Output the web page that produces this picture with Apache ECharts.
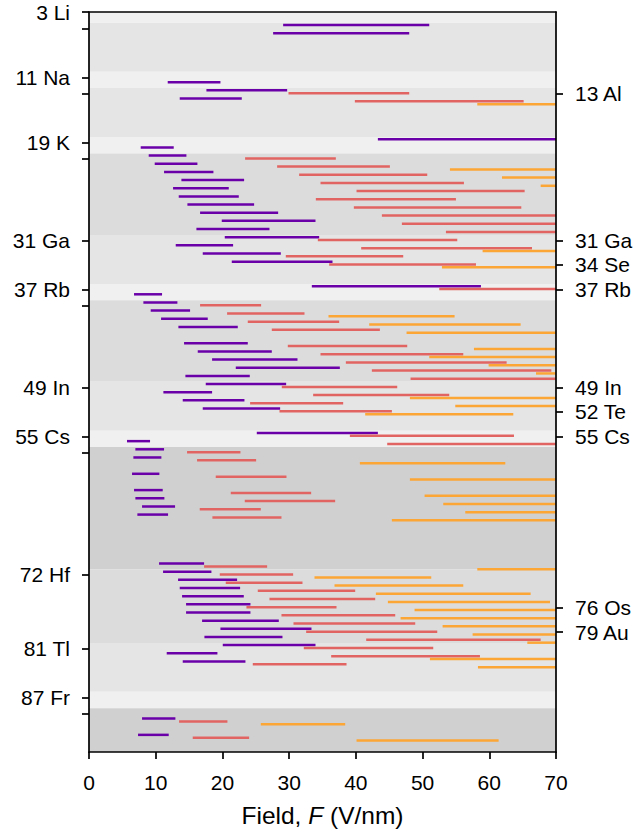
<!DOCTYPE html>
<html><head><meta charset="utf-8">
<script src="https://cdn.jsdelivr.net/npm/echarts@6/dist/echarts.min.js"></script>
<style>html,body{margin:0;padding:0;background:#fff}#c{width:636px;height:832px}</style>
</head><body><div id="c"></div>
<script>
// ---- data: field ranges (V/nm) per element row, for charge states 1+, 2+, 3+ ----
const ion1Z  = [4,5,11,12,13,18,19,20,21,22,23,24,25,26,27,28,29,30,31,32,33,36,37,38,39,40,41,43,44,45,46,47,48,49,50,51,54,55,56,57,59,61,62,63,64,70,71,72,73,74,75,76,77,78,79,80,81,82,89,91];
const ion1Lo = [29.1,27.6,11.8,17.6,13.6,43.3,7.75,8.95,9.85,11.25,13.85,12.6,13.45,14.75,16.65,19.9,16.1,20.35,13.0,17.05,21.4,33.4,6.75,8.15,9.25,10.8,13.4,14.25,16.3,18.45,22.0,14.45,17.5,11.15,14.05,17.05,25.15,5.7,6.95,6.65,6.45,6.75,6.95,7.95,7.25,10.5,11.1,13.35,13.6,13.95,14.55,14.55,16.95,19.7,17.3,20.05,11.65,14.05,7.95,7.35];
const ion1Hi = [51.0,48.0,19.7,29.7,22.9,70,12.7,14.6,16.25,18.65,23.25,20.95,22.45,24.75,28.35,33.95,27.05,34.5,21.6,28.75,36.5,58.75,10.95,13.25,15.15,17.8,22.3,23.8,27.4,31.25,37.6,24.1,29.55,18.45,23.3,28.65,43.3,9.15,11.25,10.85,10.55,11.05,11.3,12.9,11.85,17.25,18.35,22.2,22.65,23.2,24.2,24.2,28.45,33.35,29.0,33.95,19.25,23.45,12.95,11.95];

const ion2Z  = [12,13,20,21,22,23,24,25,26,27,28,29,30,31,32,33,36,38,39,40,41,43,44,45,46,47,48,49,50,51,54,55,56,57,59,61,62,63,64,70,71,72,73,74,75,76,77,78,79,80,81,82,89,91];
const ion2Lo = [29.9,39.85,23.4,28.2,31.5,34.7,40.1,34.0,39.7,43.9,46.9,53.5,34.3,40.8,29.5,36.0,52.5,16.65,20.7,23.8,27.4,29.8,34.7,38.5,42.4,48.2,28.9,33.6,24.15,28.55,39.1,44.7,14.7,16.2,19.0,21.25,23.35,16.6,18.5,17.25,19.6,20.5,25.3,27.05,23.6,28.85,30.65,32.55,41.55,32.2,36.3,24.55,13.5,15.55];
const ion2Hi = [48.0,65.15,37.0,45.1,50.7,56.2,65.3,55.0,64.8,70,70,70,55.2,66.4,47.1,58.0,70,25.8,32.3,37.5,43.6,47.7,56.1,62.6,69.3,70,46.2,54.0,38.1,45.4,63.7,70,22.7,25.05,29.6,33.3,36.9,25.75,28.85,26.7,30.6,32.0,39.9,42.9,37.1,45.9,48.9,52.2,67.7,51.6,58.6,38.6,20.75,24.0];

const ion3Z  = [13,21,22,23,31,33,39,40,41,43,44,45,46,49,50,51,57,59,61,62,63,64,70,71,72,73,74,75,76,77,78,79,81,82,89,91];
const ion3Lo = [58.2,54.1,61.9,67.7,59.0,52.9,35.9,42.0,47.6,57.7,51.0,59.9,67.0,48.1,54.9,41.4,40.6,48.1,50.3,53.1,56.4,45.4,58.2,33.8,36.8,43.0,44.8,48.8,46.7,53.0,57.5,65.7,51.1,58.3,25.75,40.1];
const ion3Hi = [70,70,70,70,70,70,54.8,64.7,70,70,70,70,70,70,70,63.6,62.4,70,70,70,70,70,70,51.3,56.1,66.2,69.1,70,70,70,70,70,70,70,38.4,61.4];

// periodic-table blocks shaded behind the rows
const bandFirstZ = [3,5,11,13,19,21,31,37,39,49,55,57,72,81,87,89];
const bandLastZ  = [4,10,12,18,20,30,36,38,48,54,56,71,80,86,88,103];
const bandBlock  = ['s','p','s','p','s','d','p','s','d','p','s','f','d','p','s','f'];

// axis ticks
const leftTickZ    = [3,11,19,31,37,49,55,72,81,87];
const leftTickSym  = ['Li','Na','K','Ga','Rb','In','Cs','Hf','Tl','Fr'];
const minorTickZ   = [5,13,21,39,57,89];
const rightTickZ   = [13,31,34,37,49,52,55,76,79];
const rightTickSym = ['Al','Ga','Se','Rb','In','Te','Cs','Os','Au'];
const xTicks = [0,10,20,30,40,50,60,70];

// ---- styling ----
const FONT = 'Liberation Sans, Arial, sans-serif';
const FS = 21;
const FS_NAME = 24.5;
const chargeColor = ['#6a00a8','#e16462','#fca636'];
const chargeOffset = [0.6, 0.95, 1.3];
const blockColor = {s:'#f0f0f0', p:'#e5e5e5', d:'#dcdcdc', f:'#d0d0d0'};

const chart = echarts.init(document.getElementById('c'), null, {renderer:'svg'});

function segSeries(zs, lo, hi, q) {
  return {
    type:'custom', name: q+1 + '+', z: 5, clip: true,
    xAxisIndex:0, yAxisIndex:0,
    encode:{x:[1,2], y:0},
    data: zs.map((z,i)=>[z + chargeOffset[q], lo[i], hi[i]]),
    renderItem(params, api) {
      const y = api.value(0);
      const p1 = api.coord([api.value(1), y]);
      const p2 = api.coord([api.value(2), y]);
      return {type:'line', shape:{x1:p1[0], y1:p1[1], x2:p2[0], y2:p2[1]},
        style:{stroke: chargeColor[q], lineWidth: 2.5, lineCap:'butt'}};
    }
  };
}

const symLeft = {}; leftTickZ.forEach((z,i)=>symLeft[z]=leftTickSym[i]);
const symRight = {}; rightTickZ.forEach((z,i)=>symRight[z]=rightTickSym[i]);

const yBase = {
  type:'value', inverse:true, min:3, max:93.7, splitLine:{show:false}, z:10,
  axisLine:{show:true, onZero:false, lineStyle:{color:'#000', width:1.7}},
};

chart.setOption({
  animation:false,
  grid:{left:89, right:80, top:12, bottom:80, containLabel:false, outerBoundsMode:'none'},
  xAxis:[{
    type:'value', min:0, max:70, interval:10, z:10,
    splitLine:{show:false},
    axisLine:{show:true, onZero:false, lineStyle:{color:'#000', width:1.7}},
    axisTick:{show:true, length:7, lineStyle:{color:'#000', width:1.7}},
    axisLabel:{color:'#000', fontFamily:FONT, fontSize:FS, margin:19.5, customValues:xTicks},
    name:'{n|Field, }{i|F}{n| (V/nm)}', nameLocation:'middle', nameGap:51,
    nameTextStyle:{rich:{n:{fontFamily:FONT, fontSize:FS_NAME, color:'#000'}, i:{fontFamily:FONT, fontSize:FS_NAME, fontStyle:'italic', color:'#000'}}}
  },{
    type:'value', min:0, max:70, position:'top', z:10,
    splitLine:{show:false}, axisTick:{show:false}, axisLabel:{show:false},
    axisLine:{show:true, onZero:false, lineStyle:{color:'#000', width:1.7}}
  }],
  yAxis:[Object.assign({}, yBase, {
    position:'left',
    axisTick:{show:true, length:7, lineStyle:{color:'#000', width:1.7}, customValues: leftTickZ.concat(minorTickZ)},
    axisLabel:{color:'#000', fontFamily:FONT, fontSize:FS, margin:19, customValues:leftTickZ,
      showMinLabel:true, showMaxLabel:true,
      formatter:v=> symLeft[v] ? (v + ' ' + symLeft[v]) : ''}
  }), Object.assign({}, yBase, {
    position:'right',
    axisTick:{show:true, length:7, lineStyle:{color:'#000', width:1.7}, customValues: rightTickZ},
    axisLabel:{color:'#000', fontFamily:FONT, fontSize:FS, margin:19, customValues:rightTickZ,
      formatter:v=> symRight[v] ? (v + ' ' + symRight[v]) : ''}
  })],
  series:[
    {
      type:'custom', name:'blocks', z:1, clip:true, xAxisIndex:0, yAxisIndex:0,
      encode:{y:[0,1]},
      data: bandFirstZ.map((a,i)=>[a - 0.67, bandLastZ[i] + 0.33, i]),
      renderItem(params, api) {
        const p1 = api.coord([0, api.value(0)]);
        const p2 = api.coord([70, api.value(1)]);
        return {type:'rect', shape:{x:p1[0], y:p1[1], width:p2[0]-p1[0], height:p2[1]-p1[1]},
          style:{fill: blockColor[bandBlock[api.value(2)]]}};
      }
    },
    segSeries(ion1Z, ion1Lo, ion1Hi, 0),
    segSeries(ion2Z, ion2Lo, ion2Hi, 1),
    segSeries(ion3Z, ion3Lo, ion3Hi, 2)
  ]
});
</script></body></html>
